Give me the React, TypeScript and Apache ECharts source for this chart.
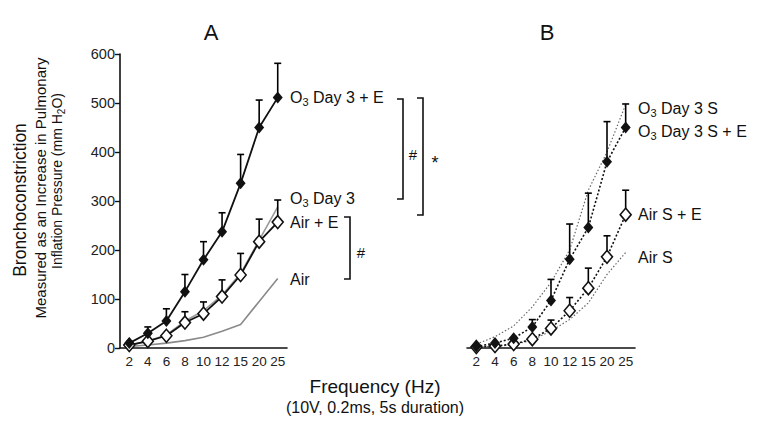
import React, { useEffect, useRef } from "react";
import * as echarts from "echarts";

const categories = ["2", "4", "6", "8", "10", "12", "15", "20", "25"];
const yTicks = [0, 100, 200, 300, 400, 500, 600];

// Panel A
const airA = [3, 6, 10, 15, 22, 34, 48, 95, 142];
const o3Day3A = [5, 14, 27, 55, 76, 108, 152, 220, 288];
const airEA = [6, 14, 25, 52, 70, 105, 149, 217, 257];
const airEAErr = [0, 0, 0, 22, 24, 34, 44, 46, 45];
const o3EA = [10, 30, 55, 115, 180, 237, 336, 450, 511];
const o3EAErr = [0, 13, 25, 35, 37, 39, 59, 56, 70];

// Panel B
const airSB = [2, 3, 7, 16, 35, 58, 92, 150, 195];
const o3SB = [8, 23, 45, 84, 134, 200, 322, 400, 497];
const airSEB = [2, 4, 8, 18, 40, 76, 122, 186, 272];
const airSEBErr = [0, 0, 0, 0, 17, 27, 41, 43, 50];
const o3SEB = [3, 10, 20, 43, 97, 181, 246, 380, 450];
const o3SEBErr = [0, 0, 0, 15, 43, 72, 70, 82, 48];

const FONT = "Liberation Sans, Arial, Helvetica, sans-serif";

function errData(mean: number[], err: number[]) {
  const out: number[][] = [];
  mean.forEach((m, i) => {
    if (err[i] > 0) out.push([i, m, m + err[i]]);
  });
  return out;
}

const renderErr = (params: any, api: any) => {
  const x = api.value(0);
  const p0 = api.coord([x, api.value(1)]);
  const p1 = api.coord([x, api.value(2)]);
  return {
    type: "group",
    children: [
      { type: "line", shape: { x1: p0[0], y1: p0[1], x2: p1[0], y2: p1[1] }, style: { stroke: "#000", lineWidth: 1.6 } },
      { type: "line", shape: { x1: p1[0] - 3.5, y1: p1[1], x2: p1[0] + 3.5, y2: p1[1] }, style: { stroke: "#000", lineWidth: 1.6 } },
    ],
  };
};

const sub = {
  a: { fontSize: 16, fontFamily: FONT, color: "#111" },
  s: { fontSize: 11, fontFamily: FONT, color: "#111", padding: [9, 0, 0, 0] },
};

function label(x: number, y: number, text: string) {
  return {
    type: "text",
    x,
    y,
    style: { text, rich: sub, align: "left", verticalAlign: "middle", fontFamily: FONT, fontSize: 16, fill: "#111" },
  };
}

function bracket(x: number, y1: number, y2: number) {
  return {
    type: "polyline",
    shape: { points: [[x - 6, y1], [x, y1], [x, y2], [x - 6, y2]] },
    style: { stroke: "#111", lineWidth: 1.6, fill: "none" },
  };
}

function plainText(x: number, y: number, text: string, size: number, rotation = 0) {
  return {
    type: "text",
    x,
    y,
    rotation,
    style: { text, align: "center", verticalAlign: "middle", fontFamily: FONT, fontSize: size, fill: "#111" },
  };
}

export default function App() {
  const ref = useRef<HTMLDivElement>(null);
  useEffect(() => {
    if (!ref.current) return;
    document.body.style.margin = "0";
    const chart = echarts.init(ref.current, null, { renderer: "svg" });
    const xAxisBase = {
      type: "category",
      data: categories,
      boundaryGap: true,
      axisLine: { lineStyle: { color: "#111", width: 1.6 } },
      axisTick: { alignWithLabel: true, length: 5, lineStyle: { color: "#111", width: 1.4 } },
      axisLabel: { fontSize: 13.5, color: "#222", fontFamily: FONT, margin: 6, interval: 0 },
      splitLine: { show: false },
    };
    const yAxisBase = {
      type: "value",
      min: 0,
      max: 600,
      interval: 100,
      splitLine: { show: false },
    };
    const lineBase = { type: "line", symbol: "none", animation: false, z: 2 };
    chart.setOption({
      animation: false,
      grid: [
        { left: 120, top: 54, width: 167, height: 294 },
        { left: 467, top: 54, width: 168, height: 294 },
      ],
      xAxis: [
        { ...xAxisBase, gridIndex: 0 },
        { ...xAxisBase, gridIndex: 1 },
      ],
      yAxis: [
        {
          ...yAxisBase,
          gridIndex: 0,
          axisLine: { show: true, lineStyle: { color: "#111", width: 1.6 } },
          axisTick: { show: true, length: 5, lineStyle: { color: "#111", width: 1.4 } },
          axisLabel: {
            fontSize: 14.5,
            color: "#222",
            fontFamily: FONT,
            margin: 5,
            formatter: (v: number) => (yTicks.includes(v) ? String(v) : ""),
          },
        },
        {
          ...yAxisBase,
          gridIndex: 1,
          axisLine: { show: false },
          axisTick: { show: false },
          axisLabel: { show: false },
        },
      ],
      series: [
        { ...lineBase, name: "Air", xAxisIndex: 0, yAxisIndex: 0, data: airA, lineStyle: { color: "#8a8a8a", width: 1.6 } },
        { ...lineBase, name: "O3 Day 3", xAxisIndex: 0, yAxisIndex: 0, data: o3Day3A, lineStyle: { color: "#9a9a9a", width: 1.6 } },
        {
          type: "custom", xAxisIndex: 0, yAxisIndex: 0, renderItem: renderErr, data: errData(airEA, airEAErr), z: 3,
          encode: { x: 0, y: 1 },
        },
        {
          type: "custom", xAxisIndex: 0, yAxisIndex: 0, renderItem: renderErr, data: errData(o3EA, o3EAErr), z: 3,
          encode: { x: 0, y: 1 },
        },
        {
          ...lineBase, name: "Air + E", xAxisIndex: 0, yAxisIndex: 0, data: airEA, z: 4,
          lineStyle: { color: "#111", width: 1.8 }, symbol: "diamond", symbolSize: [11, 13],
          itemStyle: { color: "#fff", borderColor: "#111", borderWidth: 1.6 },
        },
        {
          ...lineBase, name: "O3 Day 3 + E", xAxisIndex: 0, yAxisIndex: 0, data: o3EA, z: 4,
          lineStyle: { color: "#111", width: 1.8 }, symbol: "diamond", symbolSize: [10, 12],
          itemStyle: { color: "#111" },
        },
        { ...lineBase, name: "Air S", xAxisIndex: 1, yAxisIndex: 1, data: airSB, lineStyle: { color: "#666", width: 1.2, type: [1.5, 2] } },
        { ...lineBase, name: "O3 Day 3 S", xAxisIndex: 1, yAxisIndex: 1, data: o3SB, lineStyle: { color: "#666", width: 1.2, type: [1.5, 2] } },
        {
          type: "custom", xAxisIndex: 1, yAxisIndex: 1, renderItem: renderErr, data: errData(airSEB, airSEBErr), z: 3,
          encode: { x: 0, y: 1 },
        },
        {
          type: "custom", xAxisIndex: 1, yAxisIndex: 1, renderItem: renderErr, data: errData(o3SEB, o3SEBErr), z: 3,
          encode: { x: 0, y: 1 },
        },
        {
          ...lineBase, name: "Air S + E", xAxisIndex: 1, yAxisIndex: 1, data: airSEB, z: 4,
          lineStyle: { color: "#111", width: 1.6, type: [2, 2] }, symbol: "diamond", symbolSize: [11, 13],
          itemStyle: { color: "#fff", borderColor: "#111", borderWidth: 1.6 },
        },
        {
          ...lineBase, name: "O3 Day 3 S + E", xAxisIndex: 1, yAxisIndex: 1, data: o3SEB, z: 4,
          lineStyle: { color: "#111", width: 1.6, type: [2, 2] }, symbol: "diamond", symbolSize: [10, 12],
          itemStyle: { color: "#111" },
        },
      ],
      graphic: [
        plainText(211, 32, "A", 22),
        plainText(547, 32, "B", 22),
        plainText(20, 200, "Bronchoconstriction", 17.5, Math.PI / 2),
        plainText(40, 188, "Measured as an Increase in Pulmonary", 15, Math.PI / 2),
        {
          type: "text",
          x: 57,
          y: 181,
          rotation: Math.PI / 2,
          style: {
            text: "{a|Inflation Pressure (mm H}{s|2}{a|O)}",
            rich: {
              a: { fontSize: 14, fontFamily: FONT, color: "#111" },
              s: { fontSize: 10, fontFamily: FONT, color: "#111", padding: [8, 0, 0, 0] },
            },
            align: "center",
            verticalAlign: "middle",
            fontFamily: FONT,
            fontSize: 14,
            fill: "#111",
          },
        },
        plainText(375, 386, "Frequency (Hz)", 19),
        plainText(375, 407, "(10V, 0.2ms, 5s duration)", 16),
        label(290, 97, "{a|O}{s|3}{a| Day 3 + E}"),
        label(290, 198, "{a|O}{s|3}{a| Day 3}"),
        label(290, 222, "{a|Air + E}"),
        label(290, 279, "{a|Air}"),
        bracket(403, 99, 199),
        bracket(423, 98, 215),
        bracket(350, 217, 279),
        plainText(413, 154, "#", 15),
        plainText(435, 163, "*", 18),
        plainText(361, 252, "#", 15),
        label(638, 108, "{a|O}{s|3}{a| Day 3 S}"),
        label(638, 131, "{a|O}{s|3}{a| Day 3 S + E}"),
        label(638, 214, "{a|Air S + E}"),
        label(638, 257, "{a|Air S}"),
      ],
    });
    return () => chart.dispose();
  }, []);
  return <div ref={ref} style={{ width: 783, height: 421 }} />;
}
